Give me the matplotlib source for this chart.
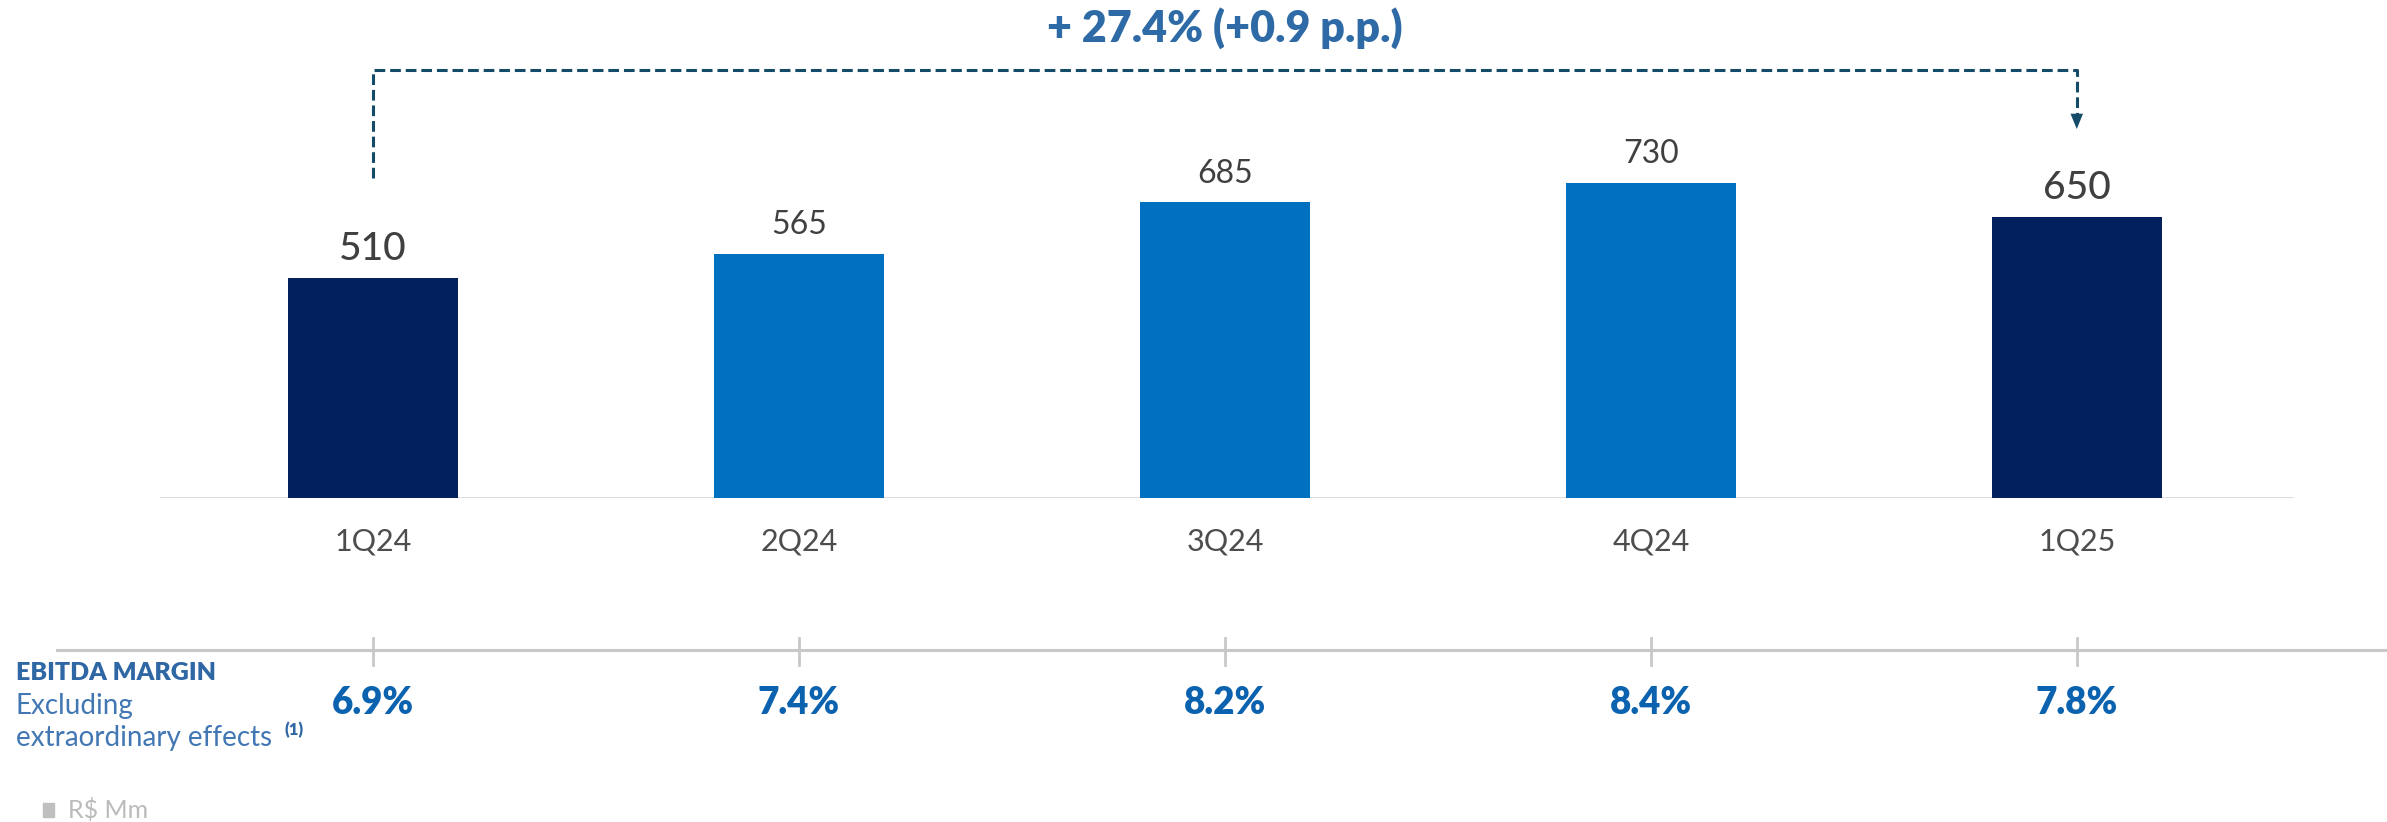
# EBITDA excluding extraordinary effects - quarterly bars with margin row
import numpy as np
import matplotlib.pyplot as plt
from matplotlib.transforms import blended_transform_factory

plt.rcParams['font.family'] = ['Lato', 'DejaVu Sans']

# data
quarters = ['1Q24', '2Q24', '3Q24', '4Q24', '1Q25']
ebitda = [510, 565, 685, 730, 650]
margin = [6.9, 7.4, 8.2, 8.4, 7.8]
highlight = [True, False, False, False, True]
growth_label = '+ 27.4% (+0.9 p.p.)'

navy = '#02205E'
blue = '#0070C0'
bracket_col = '#134B68'

W, H = 2387, 822
fig = plt.figure(figsize=(W / 100, H / 100), dpi=100)

# main axes: baseline at pixel 498, spans x pixels 160..2294
ax = fig.add_axes([160 / W, 1 - 498 / H, (2294 - 160) / W, 498 / H])
ax.set_xlim(-0.5, 4.51)
ax.set_ylim(0, 498 / 0.432)
ax.axis('off')

x = np.arange(len(quarters))
colors = [navy if h else blue for h in highlight]
ax.bar(x, ebitda, width=0.40, color=colors, zorder=2)
ax.axhline(0, color='#D9D9D9', lw=2, zorder=1)

for xi, v, h in zip(x, ebitda, highlight):
    ax.text(xi, v + 66, str(v), ha='center', va='center',
            fontsize=28 if h else 23, color='#404040',
            fontweight='medium' if h else 'normal')

# quarter labels and margin row in figure y-coords
tr = blended_transform_factory(ax.transData, fig.transFigure)
for xi, q, m in zip(x, quarters, margin):
    ax.text(xi, 1 - 541 / H, q, transform=tr, ha='center', va='center',
            fontsize=22, color='#4D4D4D')
    ax.text(xi, 1 - 703 / H, f'{m:.1f}%', transform=tr, ha='center',
            va='center', fontsize=26.5, fontweight='heavy', color='#0B62AE')
    ax.plot([xi, xi], [1 - 638 / H, 1 - 665 / H], transform=tr,
            color='#C8C8C8', lw=2, clip_on=False)

fig.add_artist(plt.Line2D([57 / W, 1], [1 - 650 / H, 1 - 650 / H],
                          color='#C8C8C8', lw=2.2))

# growth bracket from 1Q24 to 1Q25
y_top = (498 - 70) / 0.432
y_left = (498 - 178) / 0.432
y_tip = (498 - 114) / 0.432
dash = (0, (3.5, 1.6))
ax.plot([x[0], x[0], x[-1], x[-1]], [y_left, y_top, y_top, y_tip],
        color=bracket_col, lw=2.2, linestyle=dash, clip_on=False)
ax.annotate('', xy=(x[-1], (498 - 129) / 0.432), xytext=(x[-1], y_tip + 1),
            arrowprops=dict(arrowstyle='-|>,head_length=1.1,head_width=0.45',
                            color=bracket_col, lw=0, shrinkA=0, shrinkB=0),
            annotation_clip=False)
ax.text((x[0] + x[-1]) / 2, (498 - 28) / 0.432, growth_label, ha='center',
        va='center', fontsize=31, fontweight='heavy', color='#2E6AA6',
        clip_on=False)

# left side labels
fig.text(16 / W, 1 - 673 / H, 'EBITDA MARGIN', ha='left', va='center',
         fontsize=18, fontweight='heavy', color='#2E67A3')
fig.text(16 / W, 1 - 706 / H, 'Excluding', ha='left', va='center',
         fontsize=20, fontweight='normal', color='#4277B4')
t = fig.text(16 / W, 1 - 738 / H, 'extraordinary effects', ha='left',
             va='center', fontsize=20, fontweight='normal', color='#4277B4')

# superscript placed right after the text
fig.canvas.draw()
bb = t.get_window_extent()
fig.text((bb.x1 + 12) / W, 1 - 730 / H, '(1)', ha='left', va='center',
         fontsize=12, fontweight='heavy', color='#2E67A3')

# unit note
fig.patches.append(plt.Rectangle((43 / W, 1 - 817 / H), 11 / W, 14 / H,
                                 transform=fig.transFigure, color='#BFBFBF'))
fig.text(68 / W, 1 - 810 / H, 'R$ Mm', ha='left', va='center',
         fontsize=18, color='#BBBBBB')

fig.savefig('out.png', dpi=100)
